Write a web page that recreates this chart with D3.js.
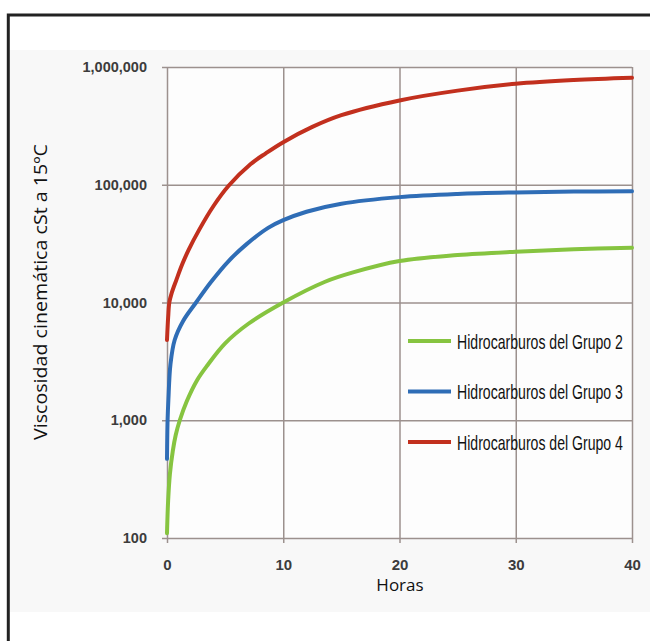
<!DOCTYPE html>
<html>
<head>
<meta charset="utf-8">
<script src="https://cdn.jsdelivr.net/npm/d3@7"></script>
<style>
  body { margin: 0; background: #fff; }
  svg { display: block; }
</style>
</head>
<body>
<script>
const width = 650;
const height = 641;

// Horas / viscosidad (cSt a 15ºC)
const grupo2 = [
  [0, 110], [0.1, 210], [0.25, 350], [0.5, 550], [0.75, 750], [1.1, 1000],
  [1.7, 1450], [2.6, 2200], [3.5, 2950], [5, 4500], [7, 6600], [10, 10000],
  [13.6, 15000], [16, 18000], [20, 22500], [25, 25300], [30, 27000],
  [35, 28300], [40, 29200]
];
const grupo3 = [
  [0, 470], [0.05, 1000], [0.12, 1500], [0.3, 3000], [0.66, 4800], [1.4, 7000],
  [2.5, 10000], [3.8, 15000], [5.3, 22500], [6.8, 31000], [8.7, 43000],
  [10, 50000], [12, 59000], [15, 69000], [20, 78500], [25, 83500],
  [30, 86000], [35, 87500], [40, 88000]
];
const grupo4 = [
  [0, 4800], [0.1, 7500], [0.2, 10000], [0.4, 12000], [0.8, 15500],
  [1.3, 21000], [1.86, 28000], [2.8, 42000], [4, 66000], [5.3, 98000],
  [7.2, 150000], [8.5, 185000], [10, 230000], [12.5, 310000],
  [15, 390000], [20, 520000], [25, 630000], [30, 720000], [35, 775000],
  [40, 810000]
];

const seriesNames = ["Hidrocarburos del Grupo 2", "Hidrocarburos del Grupo 3", "Hidrocarburos del Grupo 4"];
const seriesColors = ["#86c440", "#2f6db6", "#c2301e"];
const xTicks = [0, 10, 20, 30, 40];
const yTicks = [100, 1000, 10000, 100000, 1000000];

let svg = d3.select("body").append("svg")
  .attr("width", width)
  .attr("height", height);

// light background band + frame
svg.append("rect")
  .attr("x", 10).attr("y", 50)
  .attr("width", width - 10).attr("height", 562)
  .attr("fill", "#f8f8f8");
svg.append("path")
  .attr("d", `M8.3,${height + 5} L8.3,15 L${width + 5},15`)
  .attr("fill", "none")
  .attr("stroke", "#222")
  .attr("stroke-width", 3);

let margin = { top: 67, right: 18, bottom: 103, left: 167 };
let x0 = margin.left, x1 = width - margin.right;
let y0 = height - margin.bottom, y1 = margin.top;

svg.append("rect")
  .attr("x", x0).attr("y", y1)
  .attr("width", x1 - x0).attr("height", y0 - y1)
  .attr("fill", "#fdfdfd");

let xScale = d3.scaleLinear().domain([0, 40]).range([x0, x1]);
let yScale = d3.scaleLog().domain([100, 1000000]).range([y0, y1]);

const gridColor = "#9c918e";
const tickFont = "Liberation Sans, Arial, sans-serif";

// y axis with gridlines
let yAxis = svg.append("g")
  .attr("transform", `translate(${x0},0)`)
  .call(d3.axisLeft(yScale).tickValues(yTicks).tickFormat(d3.format(",")).tickSize(5).tickPadding(15));
yAxis.select(".domain").remove();
yAxis.selectAll(".tick line")
  .attr("x2", x1 - x0)
  .attr("x1", -5)
  .attr("stroke", gridColor)
  .attr("stroke-width", 1.5);
yAxis.selectAll(".tick text")
  .attr("font-family", tickFont)
  .attr("font-size", 14.5)
  .attr("font-weight", "bold")
  .attr("fill", "#3c3c3c");

// x axis with gridlines
let xAxis = svg.append("g")
  .attr("transform", `translate(0,${y0})`)
  .call(d3.axisBottom(xScale).tickValues(xTicks).tickSize(5).tickPadding(16));
xAxis.select(".domain").remove();
xAxis.selectAll(".tick line")
  .attr("y1", -(y0 - y1))
  .attr("y2", 5)
  .attr("stroke", gridColor)
  .attr("stroke-width", 1.5);
xAxis.selectAll(".tick text")
  .attr("font-family", tickFont)
  .attr("font-size", 15)
  .attr("font-weight", "bold")
  .attr("fill", "#3c3c3c");

// curves
let line = d3.line()
  .x((d) => xScale(d[0]))
  .y((d) => yScale(d[1]))
  .curve(d3.curveCatmullRom.alpha(0.5));

[grupo2, grupo3, grupo4].forEach((data, i) => {
  svg.append("path")
    .datum(data)
    .attr("d", line)
    .attr("fill", "none")
    .attr("stroke", seriesColors[i])
    .attr("stroke-width", 4)
    .attr("stroke-linecap", "round");
});

// legend (condensed text, squeezed to the reference width)
let legend = svg.append("g");
seriesNames.forEach((name, i) => {
  let ly = 341 + i * 50.5;
  legend.append("line")
    .attr("x1", 408).attr("x2", 451)
    .attr("y1", ly).attr("y2", ly)
    .attr("stroke", seriesColors[i])
    .attr("stroke-width", 4);
  let t = legend.append("text")
    .attr("font-family", "Liberation Sans, Arial, sans-serif")
    .attr("font-size", 21)
    .attr("fill", "#111")
    .text(name);
  let w = t.node().getComputedTextLength();
  let sx = w > 0 ? 166 / w : 1;
  t.attr("transform", `translate(457,${ly + 7.5}) scale(${sx},1)`);
});

// axis titles
svg.append("text")
  .attr("x", 400).attr("y", 591)
  .attr("text-anchor", "middle")
  .attr("font-family", "Open Sans, sans-serif")
  .attr("font-size", 17)
  .attr("fill", "#111")
  .text("Horas");

svg.append("text")
  .attr("transform", "translate(47,292) rotate(-90)")
  .attr("text-anchor", "middle")
  .attr("font-family", "Open Sans, sans-serif")
  .attr("font-size", 19)
  .attr("fill", "#111")
  .attr("textLength", 296)
  .attr("lengthAdjust", "spacingAndGlyphs")
  .text("Viscosidad cinemática cSt a 15ºC");
</script>
</body>
</html>
